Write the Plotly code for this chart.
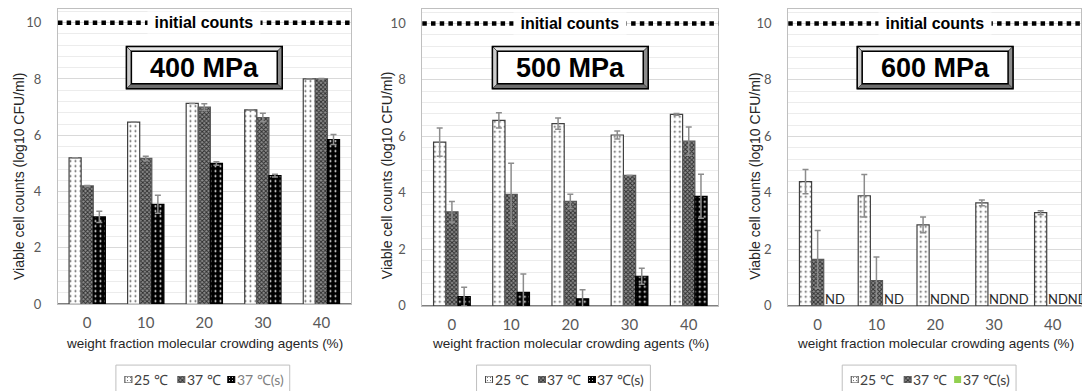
import plotly.graph_objects as go

W, H = 1082, 391

categories = ["0", "10", "20", "30", "40"]
series_names = ["25 ℃", "37 ℃", "37 ℃(s)"]
panel_titles = ["400 MPa", "500 MPa", "600 MPa"]

# 400 MPa
p400_25 = [5.2, 6.47, 7.13, 6.9, 8.0]
p400_25_err = [0.0, 0.0, 0.0, 0.0, 0.0]
p400_37 = [4.2, 5.18, 7.0, 6.63, 8.0]
p400_37_err = [0.02, 0.08, 0.12, 0.15, 0.02]
p400_37s = [3.1, 3.55, 5.0, 4.57, 5.85]
p400_37s_err = [0.2, 0.32, 0.06, 0.05, 0.18]

# 500 MPa
p500_25 = [5.8, 6.57, 6.45, 6.05, 6.78]
p500_25_err = [0.5, 0.27, 0.2, 0.14, 0.03]
p500_37 = [3.33, 3.95, 3.7, 4.62, 5.83]
p500_37_err = [0.37, 1.1, 0.25, 0.0, 0.5]
p500_37s = [0.33, 0.48, 0.25, 1.05, 3.88]
p500_37s_err = [0.33, 0.65, 0.32, 0.28, 0.78]

# 600 MPa (None = ND)
p600_25 = [4.4, 3.9, 2.87, 3.65, 3.3]
p600_25_err = [0.43, 0.75, 0.28, 0.1, 0.07]
p600_37 = [1.65, 0.9, None, None, None]
p600_37_err = [1.02, 0.83, 0, 0, 0]
p600_37s = [None, None, None, None, None]
p600_37s_err = [0, 0, 0, 0, 0]

initial_count = 10

panels = [
    (p400_25, p400_25_err, p400_37, p400_37_err, p400_37s, p400_37s_err),
    (p500_25, p500_25_err, p500_37, p500_37_err, p500_37s, p500_37s_err),
    (p600_25, p600_25_err, p600_37, p600_37_err, p600_37s, p600_37s_err),
]

# ---- styling ----
BARGAP = 0.38
styles = [
    dict(pattern=dict(shape=".", bgcolor="white", fgcolor="#595959", size=5, solidity=0.12, fillmode="replace"),
         line=dict(color="#404040", width=1.2)),
    dict(pattern=dict(shape="x", bgcolor="#8f8f8f", fgcolor="#303030", size=3, solidity=0.55, fillmode="replace"),
         line=dict(color="#595959", width=1.2)),
    dict(pattern=dict(shape=".", bgcolor="#000000", fgcolor="#ffffff", size=5, solidity=0.12, fillmode="replace"),
         line=dict(color="#000000", width=1.2)),
]
s_green = dict(color="#92d050", line=dict(color="#92d050", width=0))

# pixel layout of each panel: (left, right, y0 pixel, top pixel)
pix = [(58, 351, 305, 8.6), (422.7, 719, 306.7, 9.3), (789, 1082, 306.7, 9.3)]
xranges = [[-0.5, 4.5], [-0.5, 4.5], [-0.5, 4.48]]
ytitle_x = [18.5, 387, 755]
legend_left = [116, 477, 843]
VSCALE = 0.982  # observed vertical compression of the rendered page


def px(x):
    return x / W


def py(y):
    return max(0.0, 1 - (y / VSCALE) / H)


fig = go.Figure()
shapes = []
annotations = []


def pa(**kw):
    d = dict(xref="paper", yref="paper", showarrow=False, xanchor="center", yanchor="middle")
    d.update(kw)
    return d


for i, (a25, e25, a37, e37, a37s, e37s) in enumerate(panels):
    xa = "x" if i == 0 else f"x{i+1}"
    ya = "y" if i == 0 else f"y{i+1}"
    vals = [(a25, e25), (a37, e37), (a37s, e37s)]
    for k, (v, e) in enumerate(vals):
        st = styles[k]
        fig.add_trace(go.Bar(
            x=categories, y=v, name=series_names[k], offsetgroup=str(k),
            xaxis=xa, yaxis=ya, showlegend=False,
            marker=dict(pattern=st["pattern"], line=st["line"], color=st["pattern"]["bgcolor"]),
            error_y=dict(type="data", array=e, visible=True, color="#8c8c8c", thickness=1.5, width=3),
        ))

    # ND labels (consecutive ND slots joined into one label)
    if i == 2:
        gw = 1 - BARGAP
        for j in range(len(categories)):
            nd_slots = [k for k, (v, _) in enumerate(vals) if v[j] is None]
            if nd_slots:
                left = j - gw / 2 + nd_slots[0] * gw / 3
                annotations.append(dict(
                    x=left, y=0, xref=xa, yref=ya, text="ND" * len(nd_slots), showarrow=False,
                    xanchor="left", yanchor="bottom", xshift=-1, yshift=-3,
                    font=dict(family="Lato, Liberation Sans", size=13, color="#262626")))

    L, R, Y0, YT = pix[i]
    xkey = "xaxis" if i == 0 else f"xaxis{i+1}"
    ykey = "yaxis" if i == 0 else f"yaxis{i+1}"
    fig.layout[xkey] = dict(
        domain=[px(L), px(R)], anchor=ya, type="category", range=xranges[i],
        showgrid=False, showline=True, mirror=True, linecolor="#bfbfbf", linewidth=1,
        ticks="", ticklabelstandoff=5,
        tickfont=dict(family="Lato, Liberation Sans", size=15, color="#595959"))
    fig.layout[ykey] = dict(
        domain=[py(Y0), py(YT)], anchor=xa, range=[0, 10.5], tickvals=[0, 2, 4, 6, 8, 10],
        showgrid=True, gridcolor="#d9d9d9", gridwidth=1,
        minor=dict(dtick=0.4, tick0=0, showgrid=True, gridcolor="#ececec", gridwidth=1),
        showline=True, mirror=True, linecolor="#bfbfbf", linewidth=1,
        zeroline=True, zerolinecolor="#808080", zerolinewidth=1.5,
        ticks="", ticklabelstandoff=13,
        tickfont=dict(family="Lato, Liberation Sans", size=13, color="#595959"))

    # initial counts dotted line
    shapes.append(dict(type="line", xref=f"{xa} domain", yref=ya, x0=0, x1=1,
                       y0=initial_count, y1=initial_count,
                       line=dict(color="black", width=4.5, dash="4.5px,4.2px")))
    annotations.append(dict(x=0.5, xref=f"{xa} domain", y=initial_count, yref=ya,
                            xanchor="center", yanchor="middle",
                            text="\u00a0initial counts\u00a0", showarrow=False,
                            bgcolor="white", borderpad=2,
                            font=dict(family="Liberation Sans, Arial", size=16, color="black",
                                      weight="bold")))

    # MPa bevel box
    Rv = R if i < 2 else 1083
    cx = (L + Rv) / 2
    bw, bt, bb, b = 156, 46.5, 89, 5
    x0, x1 = cx - bw / 2, cx + bw / 2

    def P(x, y):
        return f"{px(x)},{py(y)}"
    shapes += [
        dict(type="path", xref="paper", yref="paper", layer="above",
             path=f"M{P(x0,bt)} L{P(x1,bt)} L{P(x1-b,bt+b)} L{P(x0+b,bt+b)} Z",
             fillcolor="#e6e6e6", line=dict(color="#404040", width=0.8)),
        dict(type="path", xref="paper", yref="paper", layer="above",
             path=f"M{P(x0,bt)} L{P(x0+b,bt+b)} L{P(x0+b,bb-b)} L{P(x0,bb)} Z",
             fillcolor="#cccccc", line=dict(color="#404040", width=0.8)),
        dict(type="path", xref="paper", yref="paper", layer="above",
             path=f"M{P(x1,bt)} L{P(x1,bb)} L{P(x1-b,bb-b)} L{P(x1-b,bt+b)} Z",
             fillcolor="#8c8c8c", line=dict(color="#404040", width=0.8)),
        dict(type="path", xref="paper", yref="paper", layer="above",
             path=f"M{P(x0,bb)} L{P(x1,bb)} L{P(x1-b,bb-b)} L{P(x0+b,bb-b)} Z",
             fillcolor="#6e6e6e", line=dict(color="#404040", width=0.8)),
        dict(type="rect", xref="paper", yref="paper", layer="above",
             x0=px(x0), x1=px(x1), y0=py(bb), y1=py(bt),
             fillcolor="rgba(0,0,0,0)", line=dict(color="black", width=1.5)),
        dict(type="rect", xref="paper", yref="paper", layer="above",
             x0=px(x0 + b), x1=px(x1 - b), y0=py(bb - b), y1=py(bt + b),
             fillcolor="white", line=dict(color="black", width=1.5)),
    ]
    annotations.append(pa(x=px(cx), y=py((bt + bb) / 2), text=panel_titles[i],
                          font=dict(family="Liberation Sans, Arial", size=27, color="black",
                                    weight="bold")))

    # axis titles
    annotations.append(pa(x=px(ytitle_x[i]), y=py(176), text="Viable cell counts (log10 CFU/ml)",
                          textangle=-90,
                          font=dict(family="Liberation Sans, Arial", size=14, color="#262626")))
    annotations.append(pa(x=px(cx), y=py(344), text="weight fraction molecular crowding agents (%)",
                          font=dict(family="Liberation Sans, Arial", size=13.5, color="#262626")))

    # manual legend
    lb = legend_left[i]
    shapes.append(dict(type="rect", xref="paper", yref="paper", x0=px(lb), x1=px(lb + 174),
                       y0=-0.05, y1=py(366), line=dict(color="#bfbfbf", width=1),
                       fillcolor="rgba(0,0,0,0)"))
    sym_off = [9, 62, 112]
    txt_off = [16, 69, 119]
    for k in range(3):
        st = styles[k]
        marker = dict(pattern=dict(st["pattern"], size=3), line=dict(color=st["line"]["color"], width=1),
                      color=st["pattern"]["bgcolor"])
        if i == 2 and k == 2:
            marker = s_green
        fig.add_trace(go.Bar(x=[lb + sym_off[k] + 3.5], y=[1], width=[7], xaxis="x4", yaxis="y4",
                             marker=marker, showlegend=False, hoverinfo="skip"))
        tcol = "#808080" if (i == 0 and k == 2) else "#404040"
        annotations.append(pa(x=px(lb + txt_off[k]), y=py(380.5), xanchor="left",
                              text=series_names[k],
                              font=dict(family="Lato, Liberation Sans", size=14, color=tcol)))

fig.layout["xaxis4"] = dict(domain=[0, 1], range=[0, W], visible=False, anchor="y4")
fig.layout["yaxis4"] = dict(domain=[py(384), py(377)], range=[0, 1], visible=False, anchor="x4")

fig.update_layout(
    width=W, height=H, margin=dict(l=0, r=0, t=0, b=0), autosize=False,
    paper_bgcolor="white", plot_bgcolor="white",
    barmode="group", bargap=BARGAP, bargroupgap=0,
    showlegend=False, shapes=shapes, annotations=annotations,
)

fig.write_html("out.html",
               config={"responsive": False, "displayModeBar": False},
               post_script="document.body.style.margin='0';document.body.style.overflow='hidden';")
